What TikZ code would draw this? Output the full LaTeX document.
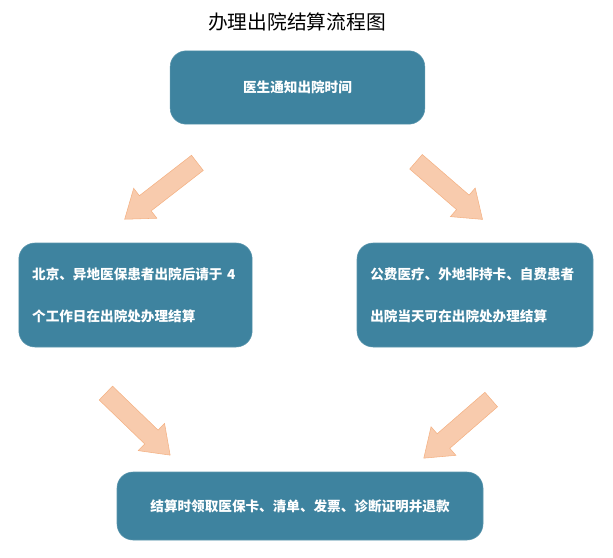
\documentclass[tikz,border=0pt]{standalone}
\usepackage{fontspec}
\newfontfamily\cjk{Noto Sans CJK SC}
\usetikzlibrary{shapes.arrows}
\definecolor{boxblue}{RGB}{62,131,159}
\definecolor{arrowfill}{RGB}{248,203,173}
\definecolor{arrowline}{RGB}{244,177,131}
\begin{document}
\begin{tikzpicture}[x=0.75pt,y=-0.75pt,font=\cjk,
	box/.style={fill=boxblue,draw=boxblue!85!white,rounded corners=12pt,text=white,
		font={\cjk\bfseries\fontsize{10.2pt}{31.5pt}\selectfont}},
	fat/.style={single arrow,draw=arrowline,fill=arrowfill,inner sep=7pt,
		single arrow head extend=7pt,single arrow tip angle=72}]
	\useasboundingbox (0,0) rectangle (613,557);
	\node (title) at (297,22) {\fontsize{14.8pt}{16pt}\selectfont 办理出院结算流程图};
	\node[box,minimum width=191pt,minimum height=55pt] (notice) at (297.5,87.5) {医生通知出院时间};
	\node[box,minimum width=175pt,minimum height=78pt,text width=155pt,align=left] (left) at (135.5,295)
		{北京、异地医保患者出院后请于 4\\个工作日在出院处办理结算};
	\node[box,minimum width=177pt,minimum height=78pt,text width=157pt,align=left] (right) at (475,295)
		{公费医疗、外地非持卡、自费患者\\出院当天可在出院处办理结算};
	\node[box,minimum width=274.5pt,minimum height=51pt] (settle) at (300,506)
		{结算时领取医保卡、清单、发票、诊断证明并退款};
	\node[fat,minimum height=69pt,rotate=217.8] (a1) at (166.25,187) {};
	\node[fat,minimum height=66pt,rotate=-40.9] (a2) at (444.25,186.25) {};
	\node[fat,minimum height=67pt,rotate=-44] (a3) at (133.25,419.5) {};
	\node[fat,minimum height=67pt,rotate=221] (a4) at (462.5,424.5) {};
\end{tikzpicture}
\end{document}
